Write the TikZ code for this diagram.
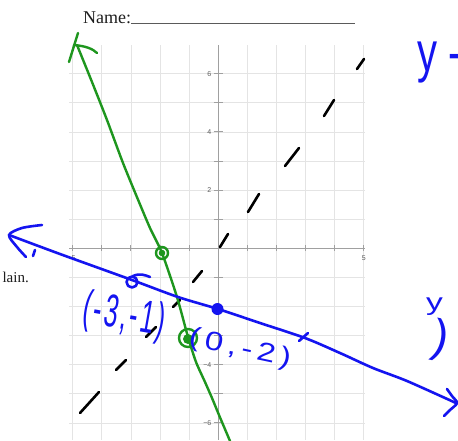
\documentclass[tikz,border=0pt]{standalone}
\usepackage{fontspec}
\usepackage{graphicx}
\setmainfont{Liberation Serif}
\newfontfamily\hand{Liberation Sans}
\newfontfamily\tickfont{Liberation Sans}
\definecolor{penblue}{RGB}{20,20,240}
\definecolor{pengreen}{RGB}{30,150,30}
\definecolor{gridgray}{RGB}{228,228,228}
\definecolor{axisgray}{RGB}{160,160,160}
\definecolor{labelgray}{RGB}{90,90,90}
\tikzset{
  gridline/.style={draw=gridgray, line width=0.8pt},
  axisline/.style={draw=axisgray, line width=1pt},
  ticklabel/.style={font=\tickfont\fontsize{7}{7}\selectfont, text=labelgray, inner sep=0pt},
  dashseg/.style={draw=black, line width=2.6pt, line cap=round},
  greenpen/.style={draw=pengreen, line width=2.4pt, line cap=round, line join=round},
  bluepen/.style={draw=penblue, line width=2.6pt, line cap=round, line join=round},
  handtxt/.style={text=penblue, inner sep=0pt},
}
\begin{document}
\begin{tikzpicture}[x=1pt,y=-1pt]
\useasboundingbox (0,0) rectangle (458,440);
\fill[white] (0,0) rectangle (458,440);
% grid
\foreach \i in {-5,...,5} \draw[gridline] ({218.2+29.1*\i},45) -- ({218.2+29.1*\i},440);
\foreach \j in {-6,...,6} \draw[gridline] (69,{248.3-29.1*\j}) -- (365,{248.3-29.1*\j});
% axes
\draw[axisline] (218.2,45) -- (218.2,440);
\draw[axisline] (69,248.3) -- (365,248.3);
\foreach \i in {-5,...,5} \draw[axisline] ({218.2+29.1*\i},245.3) -- ({218.2+29.1*\i},251.3);
\foreach \j in {-6,...,6} \draw[axisline] (213.7,{248.3-29.1*\j}) -- (222.7,{248.3-29.1*\j});
% tick labels
\node[ticklabel, anchor=east] (l6) at (211.5,73.7) {6};
\node[ticklabel, anchor=east] (l4) at (211.5,131.9) {4};
\node[ticklabel, anchor=east] (l2) at (211.5,190.1) {2};
\node[ticklabel, anchor=east] (lm4) at (211.5,364.7) {−4};
\node[ticklabel, anchor=east] (lm6) at (211.5,422.9) {−6};
\node[ticklabel] (l5) at (363.7,258.5) {5};
\node[ticklabel] (lm5) at (71.5,258.5) {−5};
% header text
\node[anchor=base west, inner sep=0pt, font=\fontsize{18}{18}\selectfont, text={rgb,255:red,30;green,30;blue,30}] (name) at (83,23) {Name:};
\draw[draw=labelgray, line width=0.9pt] (131,23.6) -- (355,23.6);
\node[anchor=base east, inner sep=0pt, font=\fontsize{15}{15}\selectfont, text={rgb,255:red,30;green,30;blue,30}] (lain) at (29,282) {lain.};
% black dashed line
\draw[dashseg] (357,69)--(364,59);
\draw[dashseg] (324,116)--(334,100);
\draw[dashseg] (285,166)--(299,148);
\draw[dashseg] (248,212)--(259,194);
\draw[dashseg] (220,247)--(228,234);
\draw[dashseg] (193,282)--(202,271);
\draw[dashseg] (173,307)--(180,300);
\draw[dashseg] (146,337)--(156,327);
\draw[dashseg] (116,370)--(126,360);
\draw[dashseg] (80,413)--(99,392);
% green line
\draw[greenpen] plot[smooth, tension=0.4] coordinates {(77,45) (92,82) (107,120) (123,163) (139,202) (150,228) (162,253) (177,297) (188,337) (196,362) (205,382) (212,398) (219,415) (230,441)};
\draw[greenpen] (78,33) -- (69,62);
\draw[greenpen] (74,45) .. controls (86,46) and (93,49) .. (97,53);
\draw[greenpen] (162,253) circle (6);
\draw[greenpen] (162,253) circle (2);
\draw[greenpen] (188,338) circle (9);
\fill[pengreen] (188,339) circle (5);
% blue line
\draw[bluepen] plot[smooth] coordinates {(9,235) (60,254) (132,280) (178,297) (218,309) (260,323) (305,338) (340,353) (373,368) (407,381) (456,403)};
\draw[bluepen] plot[smooth] coordinates {(42,225) (22,228) (9,235) (17,247) (26,257)};
\draw[bluepen] (35,250) -- (33,256);
\draw[bluepen] plot[smooth] coordinates {(447,389) (452,396) (457,403) (450,410) (444,416)};
\draw[bluepen] (132,282) circle (5.5);
\draw[bluepen] (133,276) .. controls (140,273) and (145,275) .. (150,277);
\fill[penblue] (217.5,309) circle (6);
\draw[bluepen] (299,341) -- (308,333);
% handwritten labels
\node[handtxt, rotate=-10, font=\hand\fontsize{25}{25}\selectfont\addfontfeature{LetterSpace=10}] (p1) at (124,317) {\scalebox{1}[1.85]{(-3,-1)}};
\node[handtxt, rotate=-12, font=\hand\fontsize{33}{33}\selectfont\addfontfeature{LetterSpace=15}] (p2) at (240,349) {\scalebox{1}[0.8]{(0,-2)}};
\node[handtxt, anchor=north west, font=\hand\fontsize{40}{40}\selectfont] (ytop) at (417,42) {\scalebox{1}[1.4]{y\hspace{11pt}-}};
\node[handtxt, anchor=north west, font=\hand\fontsize{24}{24}\selectfont] (ybot) at (426,298) {\scalebox{1.4}[1]{y}};
\node[handtxt, rotate=-12, font=\hand\fontsize{46}{46}\selectfont] (paren) at (440,340) {)};
\end{tikzpicture}
\end{document}
